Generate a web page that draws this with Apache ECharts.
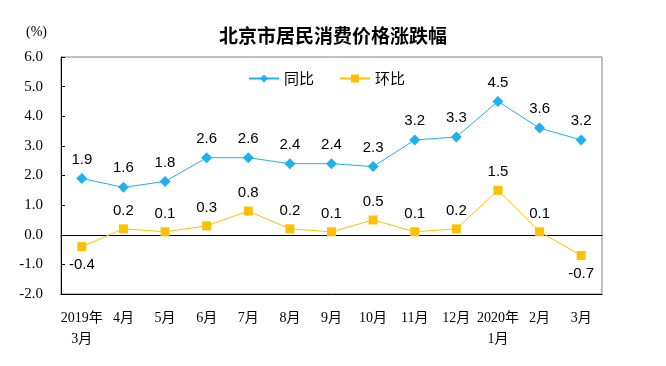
<!DOCTYPE html>
<html><head><meta charset="utf-8">
<script src="https://cdn.jsdelivr.net/npm/echarts@6/dist/echarts.min.js"></script>
<style>html,body{margin:0;padding:0;background:#fff}#c{width:666px;height:366px}</style>
</head><body><div id="c"></div>
<script>
const categories = ['2019年\n3月','4月','5月','6月','7月','8月','9月','10月','11月','12月','2020年\n1月','2月','3月'];
const yoy = [1.9,1.6,1.8,2.6,2.6,2.4,2.4,2.3,3.2,3.3,4.5,3.6,3.2];
const mom = [-0.4,0.2,0.1,0.3,0.8,0.2,0.1,0.5,0.1,0.2,1.5,0.1,-0.7];
const yTicks = [-2,-1,0,1,2,3,4,5,6];

const serif = "'Liberation Serif','Times New Roman','Noto Sans CJK SC',serif";
const sans = "'Liberation Sans',Arial,sans-serif";
const cjk = "'Noto Sans CJK SC',sans-serif";
const BLUE = '#1eb1ee', YEL = '#ffc000';

const chart = echarts.init(document.getElementById('c'));
function lbl(v){ return {show:true, position: v < 0 ? 'bottom' : 'top', distance: 6, color:'#000', fontSize:15, fontFamily:sans}; }
chart.setOption({
  animation:false,
  title:{text:'北京市居民消费价格涨跌幅', left:'center', top:21, textStyle:{fontSize:19, fontWeight:'bold', color:'#000', fontFamily:cjk}},
  graphic:[{type:'text', left:26, top:25, style:{text:'(%)', fontSize:14, fontFamily:serif, fill:'#000'}}],
  legend:{left:243, top:66, itemGap:25, itemWidth:30, itemHeight:10, textStyle:{fontSize:15, color:'#000', fontFamily:cjk}, data:['同比','环比']},
  grid:{left:61, right:64, top:57, bottom:72, show:true, borderColor:'#808080', borderWidth:1},
  xAxis:[
    {type:'category', data:categories, boundaryGap:true, axisLine:{onZero:true, lineStyle:{color:'#000', width:1}}, axisTick:{inside:true, length:4, lineStyle:{color:'#000'}}, axisLabel:{show:false}},
    {type:'category', data:categories, boundaryGap:true, position:'bottom', axisLine:{show:true, onZero:true, lineStyle:{color:'#000', width:1}}, axisTick:{inside:true, alignWithLabel:true, length:4, lineStyle:{color:'#000'}}, axisLabel:{show:false}},
    {type:'category', data:categories, boundaryGap:true, position:'bottom', axisLine:{show:false, onZero:false}, axisTick:{show:false}, axisLabel:{margin:14, fontSize:14, lineHeight:21, color:'#000', fontFamily:serif, interval:0}}
  ],
  yAxis:{type:'value', min:yTicks[0], max:yTicks[yTicks.length-1], interval:1,
    axisLine:{show:true, lineStyle:{color:'#000'}}, axisTick:{show:true, inside:true, length:4, lineStyle:{color:'#000'}},
    splitLine:{show:false}, axisLabel:{margin:18, fontSize:15, color:'#000', fontFamily:serif, formatter:v=>v.toFixed(1)}},
  series:[
    {name:'同比', type:'line', data:yoy, symbol:'diamond', symbolSize:11, itemStyle:{color:BLUE}, lineStyle:{color:BLUE, width:1}, label:{show:true, position:'top', distance:6, color:'#000', fontSize:15, fontFamily:sans, formatter:p=>p.value.toFixed(1)}},
    {name:'环比', type:'line', data:mom.map(v=>({value:v, label:lbl(v)})), symbol:'rect', symbolSize:9, itemStyle:{color:YEL}, lineStyle:{color:YEL, width:1}, label:{show:true, formatter:p=>p.value.toFixed(1)}}
  ]
});
</script></body></html>
